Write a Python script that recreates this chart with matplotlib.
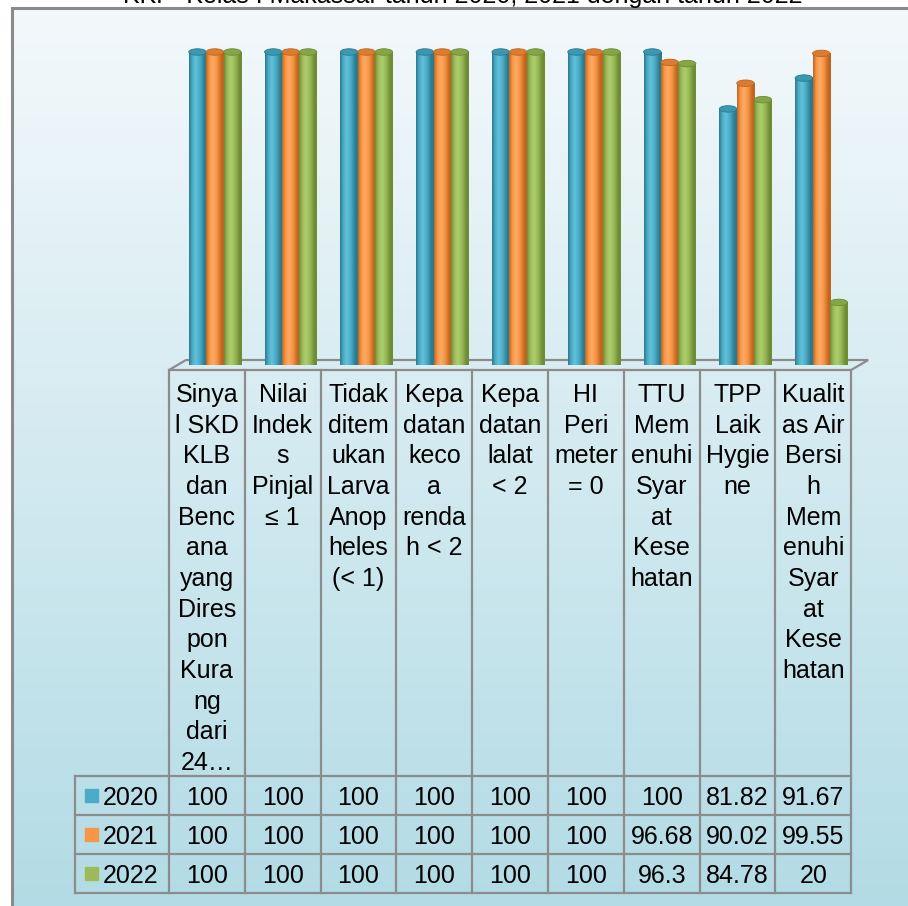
import numpy as np
import matplotlib
matplotlib.use("Agg")
import matplotlib.pyplot as plt
from matplotlib.patches import Ellipse, Rectangle, Polygon
from matplotlib.colors import LinearSegmentedColormap

# ---- data ----
TITLE = "KKP  Kelas I Makassar tahun 2020, 2021 dengan tahun 2022"
categories = [
    "Sinya\nl SKD\nKLB\ndan\nBenc\nana\nyang\nDires\npon\nKura\nng\ndari\n24…",
    "Nilai\nIndek\ns\nPinjal\n≤ 1",
    "Tidak\nditem\nukan\nLarva\nAnop\nheles\n(< 1)",
    "Kepa\ndatan\nkeco\na\nrenda\nh < 2",
    "Kepa\ndatan\nlalat\n< 2",
    "HI\nPeri\nmeter\n= 0",
    "TTU\nMem\nenuhi\nSyar\nat\nKese\nhatan",
    "TPP\nLaik\nHygie\nne",
    "Kualit\nas Air\nBersi\nh\nMem\nenuhi\nSyar\nat\nKese\nhatan",
]
years = ["2020", "2021", "2022"]
v2020 = [100, 100, 100, 100, 100, 100, 100, 81.82, 91.67]
v2021 = [100, 100, 100, 100, 100, 100, 96.68, 90.02, 99.55]
v2022 = [100, 100, 100, 100, 100, 100, 96.3, 84.78, 20]
labels2020 = ["100", "100", "100", "100", "100", "100", "100", "81.82", "91.67"]
labels2021 = ["100", "100", "100", "100", "100", "100", "96.68", "90.02", "99.55"]
labels2022 = ["100", "100", "100", "100", "100", "100", "96.3", "84.78", "20"]

# (base, edge-dark, highlight, top) per series
COLORS = [
    ("#4bacc6", "#2b7a90", "#63c2da", "#3b98b1"),
    ("#f79646", "#c0651f", "#fdaa64", "#dd7b30"),
    ("#9bbb59", "#6e8c34", "#afcd6c", "#86a546"),
]

W, H = 908, 906
FONT = "Liberation Sans"
FS = 18
GRID = "#8c8c8c"

# layout in pixels
FRAME_L, FRAME_T = 12, 8
TAB_L, COL_W = 169, 75.8
LEG_L = 75
FLOOR_FRONT, FLOOR_DX, FLOOR_DY = 370, 17, -10
ROW_TOP = [776, 815, 854, 893]
BAR_DX, BASE_Y, TOP_Y = 8, 365, 52

fig = plt.figure(figsize=(W / 100, H / 100), dpi=100)
bg = fig.add_axes([0, 0, 1, 1])
bg.axis("off")

# background gradient inside the chart frame
grad = np.linspace(0, 1, 256)[:, None]
c_top = np.array([0.955, 0.975, 0.985])
c_bot = np.array([0.69, 0.855, 0.895])
img = c_top[None, None, :] * (1 - grad[..., None]) + c_bot[None, None, :] * grad[..., None]
img = np.repeat(img, 2, axis=1)
bg.imshow(img, extent=[FRAME_L, W + 40, H + 40, FRAME_T], aspect="auto", zorder=0)
bg.plot([FRAME_L, FRAME_L, W + 40], [H + 40, FRAME_T, FRAME_T], color="#8a8a8a", lw=2.2,
        zorder=1, solid_joinstyle="miter")
bg.set_xlim(0, W)
bg.set_ylim(H, 0)

# title (cut off at the top edge, as in the original screenshot)
bg.text(463, 3.5, TITLE, ha="center", va="baseline", fontsize=FS, family=FONT, color="black",
        zorder=5)

n = len(categories)
tab_r = TAB_L + n * COL_W

# floor outline
floor = Polygon([(TAB_L, FLOOR_FRONT), (TAB_L + FLOOR_DX, FLOOR_FRONT + FLOOR_DY),
                 (tab_r + FLOOR_DX, FLOOR_FRONT + FLOOR_DY), (tab_r, FLOOR_FRONT)],
                closed=True, fill=False, edgecolor=GRID, lw=1.6, zorder=2)
bg.add_patch(floor)

# table grid
for i in range(n + 1):
    xg = TAB_L + i * COL_W
    bg.plot([xg, xg], [FLOOR_FRONT, ROW_TOP[-1]], color=GRID, lw=1.6, zorder=2)
bg.plot([LEG_L, LEG_L], [ROW_TOP[0], ROW_TOP[-1]], color=GRID, lw=1.6, zorder=2)
for yg in ROW_TOP:
    bg.plot([LEG_L, tab_r], [yg, yg], color=GRID, lw=1.6, zorder=2)

# category labels
for i, lab in enumerate(categories):
    cx = TAB_L + (i + 0.5) * COL_W
    bg.text(cx, 383, lab, ha="center", va="top", fontsize=FS, family=FONT,
            linespacing=1.35, zorder=5)

# data rows with legend keys
rows = [labels2020, labels2021, labels2022]
for r, (yr, vals) in enumerate(zip(years, rows)):
    y0 = ROW_TOP[r]
    bg.add_patch(Rectangle((85, y0 + 13), 13, 13, color=COLORS[r][0], zorder=5))
    bg.text(103, y0 + 29, yr, ha="left", va="baseline", fontsize=FS, family=FONT, zorder=5)
    for i, s in enumerate(vals):
        cx = TAB_L + (i + 0.5) * COL_W
        bg.text(cx, y0 + 29, s, ha="center", va="baseline", fontsize=FS, family=FONT, zorder=5)

# bar axes mapped onto the floor area
ax_l = TAB_L + BAR_DX
ax = fig.add_axes([ax_l / W, (H - BASE_Y) / H, n * COL_W / W, (BASE_Y - TOP_Y) / H])
ax.axis("off")
ax.patch.set_alpha(0)

bw = 0.23
px_per_unit = (BASE_Y - TOP_Y) / 100
ell_h = 6.5 / px_per_unit
x = np.arange(n)


def shade_cmap(cols):
    base, dark, hi, _ = cols
    return LinearSegmentedColormap.from_list(
        "cyl", [(0, dark), (0.18, base), (0.38, hi), (0.6, base), (0.88, dark), (1, dark)])


g = np.linspace(0, 1, 64)[None, :]
for s, vals in enumerate([v2020, v2021, v2022]):
    cols = COLORS[s]
    cmap = shade_cmap(cols)
    xs = x + (s - 1) * bw
    bars = ax.bar(xs, vals, bw, color=cols[0], linewidth=0, zorder=3 + s)
    for b, xc, v in zip(bars, xs, vals):
        x0 = xc - bw / 2
        im = ax.imshow(g, cmap=cmap, extent=[x0, x0 + bw, -ell_h / 2, v], aspect="auto",
                       zorder=3 + s, interpolation="bilinear")
        im.set_clip_path(b)
        bot = Ellipse((xc, 0), bw, ell_h, facecolor="none", edgecolor="none", zorder=3 + s)
        ax.add_patch(bot)
        im2 = ax.imshow(g, cmap=cmap, extent=[x0, x0 + bw, -ell_h / 2, v], aspect="auto",
                        zorder=3 + s, interpolation="bilinear")
        im2.set_clip_path(bot)
        top = Ellipse((xc, v), bw, ell_h, facecolor=cols[3], edgecolor=cols[1], lw=0.6,
                      zorder=3 + s + 0.5)
        ax.add_patch(top)
ax.set_xlim(-0.5, n - 0.5)
ax.set_ylim(0, 100)
for art in ax.patches:
    art.set_clip_on(False)

fig.savefig("out.png", dpi=100)
